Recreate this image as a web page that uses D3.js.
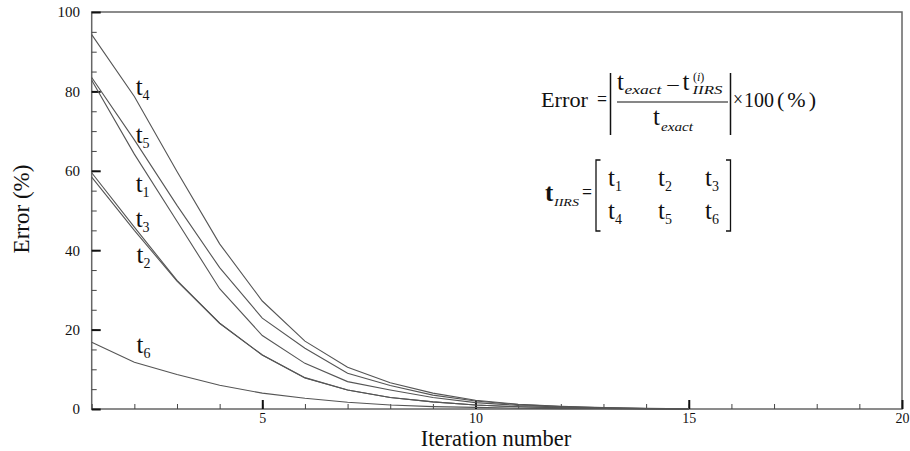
<!DOCTYPE html>
<html>
<head>
<meta charset="utf-8">
<script src="https://cdn.jsdelivr.net/npm/d3@7"></script>
<style>
  html, body { margin: 0; padding: 0; background: #fff; }
  svg { display: block; }
  text { font-family: "Liberation Serif", "Times New Roman", serif; fill: #111; }
</style>
</head>
<body>
<svg id="chart" width="910" height="451"></svg>
<script>
// Iteration index and relative error (%) of each IIRS component
const iterations = [1, 2, 3, 4, 5, 6, 7, 8, 9, 10, 11, 12, 13, 14, 15];
const t1 = [82.8, 64.2, 47.3, 30.3, 18.5, 11.5, 6.9, 4.8, 2.9, 1.6, 0.9, 0.5, 0.25, 0.1, 0.03];
const t2 = [58.4, 45.0, 32.2, 21.6, 13.6, 7.8, 4.8, 2.9, 1.8, 1.0, 0.55, 0.3, 0.15, 0.06, 0.02];
const t3 = [59.5, 45.8, 32.4, 21.6, 13.6, 7.9, 4.8, 2.9, 1.8, 1.0, 0.55, 0.3, 0.15, 0.06, 0.02];
const t4 = [94.3, 78.7, 59.8, 41.6, 27.2, 17.1, 10.5, 6.6, 4.0, 2.2, 1.2, 0.7, 0.35, 0.15, 0.05];
const t5 = [83.5, 67.8, 51.3, 35.6, 22.9, 15.3, 9.0, 5.9, 3.5, 2.0, 1.1, 0.6, 0.3, 0.12, 0.04];
const t6 = [16.8, 11.8, 8.7, 6.0, 4.0, 2.7, 1.7, 1.0, 0.6, 0.4, 0.2, 0.1, 0.05, 0.02, 0.01];

const seriesNames = ["1", "2", "3", "4", "5", "6"];
const seriesValues = [t1, t2, t3, t4, t5, t6];

const xMajorTicks = [5, 10, 15, 20];
const yMajorTicks = [0, 20, 40, 60, 80, 100];

const svg = d3.select("#chart");
const plotLeft = 91.7, plotRight = 902, plotTop = 12, plotBottom = 409;

const x = d3.scaleLinear().domain([1, 20]).range([plotLeft, plotRight]);
const y = d3.scaleLinear().domain([0, 100]).range([plotBottom, plotTop]);

// frame
svg.append("rect")
  .attr("x", plotLeft).attr("y", plotTop)
  .attr("width", plotRight - plotLeft).attr("height", plotBottom - plotTop)
  .attr("fill", "none").attr("stroke", "#666").attr("stroke-width", 1.5);

// minor ticks
svg.append("g")
  .attr("transform", `translate(0,${plotBottom})`)
  .call(d3.axisBottom(x).tickValues(d3.range(1, 21)).tickSizeInner(-5).tickSizeOuter(0).tickFormat(""))
  .call(g => g.select(".domain").remove())
  .call(g => g.selectAll("line").attr("stroke", "#444").attr("stroke-width", 1));
svg.append("g")
  .attr("transform", `translate(${plotLeft},0)`)
  .call(d3.axisLeft(y).tickValues(d3.range(0, 101, 5)).tickSizeInner(-5).tickSizeOuter(0).tickFormat(""))
  .call(g => g.select(".domain").remove())
  .call(g => g.selectAll("line").attr("stroke", "#444").attr("stroke-width", 1));

// major ticks with labels
svg.append("g")
  .attr("transform", `translate(0,${plotBottom})`)
  .call(d3.axisBottom(x).tickValues(xMajorTicks).tickSizeInner(-9).tickSizeOuter(0).tickPadding(4).tickFormat(d3.format("d")))
  .call(g => g.select(".domain").remove())
  .call(g => g.selectAll("line").attr("stroke", "#111").attr("stroke-width", 2))
  .call(g => g.selectAll("text").style("font-family", "Liberation Serif").style("font-size", "14px").attr("fill", "#222"));
svg.append("g")
  .attr("transform", `translate(${plotLeft},0)`)
  .call(d3.axisLeft(y).tickValues(yMajorTicks).tickSizeInner(-9).tickSizeOuter(0).tickPadding(11.7).tickFormat(d3.format("d")))
  .call(g => g.select(".domain").remove())
  .call(g => g.selectAll("line").attr("stroke", "#111").attr("stroke-width", 2))
  .call(g => g.selectAll("text").style("font-family", "Liberation Serif").style("font-size", "15px").attr("fill", "#222"));

// axis titles
svg.append("text")
  .attr("x", 496).attr("y", 446).attr("text-anchor", "middle")
  .style("font-size", "22.5px").text("Iteration number");
svg.append("text")
  .attr("transform", "translate(29,209) rotate(-90)").attr("text-anchor", "middle")
  .style("font-size", "23px").text("Error (%)");

// error curves
const line = d3.line().x((d, i) => x(iterations[i])).y(d => y(d));
svg.append("g").selectAll("path")
  .data(seriesValues)
  .join("path")
  .attr("d", line)
  .attr("fill", "none")
  .attr("stroke", "#555")
  .attr("stroke-width", 1.1);

// curve labels: t with subscript
function tLabel(g, px, py, sub) {
  const t = g.append("text").attr("x", px).attr("y", py);
  t.append("tspan").style("font-size", "25px").text("t");
  t.append("tspan").attr("dy", 5).style("font-size", "14px").text(sub);
  return t;
}
const labelGroup = svg.append("g");
const labelAnchors = [
  { s: "4", xv: 2.03, yv: 79.1 },
  { s: "5", xv: 2.03, yv: 66.9 },
  { s: "1", xv: 2.03, yv: 54.7 },
  { s: "3", xv: 2.03, yv: 45.9 },
  { s: "2", xv: 2.05, yv: 36.7 },
  { s: "6", xv: 2.05, yv: 14.0 }
];
labelAnchors.forEach(a => tLabel(labelGroup, x(a.xv), y(a.yv), a.s));

// error definition
const f = svg.append("g");
function txt(px, py, str, size, opts = {}) {
  const t = f.append("text").attr("x", px).attr("y", py).style("font-size", size + "px").text(str);
  if (opts.italic) t.style("font-style", "italic");
  if (opts.bold) t.style("font-weight", "bold");
  if (opts.width) t.attr("textLength", opts.width).attr("lengthAdjust", "spacingAndGlyphs");
  if (opts.spacing) t.style("letter-spacing", opts.spacing + "px");
  return t;
}
function seg(x1, y1, x2, y2, w = 1.3) {
  f.append("line").attr("x1", x1).attr("y1", y1).attr("x2", x2).attr("y2", y2)
    .attr("stroke", "#111").attr("stroke-width", w);
}
const mainBase = 107;
txt(541, mainBase, "Error", 21, { width: 47 });
txt(597, mainBase - 1, "=", 20, { width: 10 });
seg(610.5, 73, 610.5, 135, 1.5);
txt(617, 90, "t", 25);
txt(624.5, 94, "exact", 12.5, { italic: true, width: 37 });
txt(666, 92, "\u2212", 20, { width: 14 });
txt(682.5, 90, "t", 25);
const sup = txt(693, 81, "(", 12);
sup.append("tspan").style("font-style", "italic").text("i");
sup.append("tspan").text(")");
txt(692.5, 94, "IIRS", 12, { italic: true, width: 30 });
seg(617, 102, 728, 102, 1.2);
txt(653, 125, "t", 25);
txt(661, 130.5, "exact", 12.5, { italic: true, width: 32 });
seg(730.5, 73, 730.5, 135, 1.5);
txt(733, mainBase - 1, "\u00d7", 20, { width: 10 });
txt(744, mainBase, "100", 21, { width: 30 });
txt(777, mainBase, "(%)", 22, { spacing: 3 });

// IIRS component matrix
txt(545, 201, "t", 25, { bold: true });
txt(554, 205.5, "IIRS", 11, { italic: true, width: 25 });
txt(582, 199, "=", 20, { width: 10 });
f.append("path").attr("d", "M600.5,160H596V231H600.5").attr("fill", "none").attr("stroke", "#111").attr("stroke-width", 1.3);
f.append("path").attr("d", "M726,160H730.5V231H726").attr("fill", "none").attr("stroke", "#111").attr("stroke-width", 1.3);
const colX = [608, 658, 705];
const rowY = [186, 219];
[["1", "2", "3"], ["4", "5", "6"]].forEach((row, r) => {
  row.forEach((s, c) => {
    const t = f.append("text").attr("x", colX[c]).attr("y", rowY[r]);
    t.append("tspan").style("font-size", "25px").text("t");
    t.append("tspan").attr("dy", 5).style("font-size", "14px").text(s);
  });
});
</script>
</body>
</html>
